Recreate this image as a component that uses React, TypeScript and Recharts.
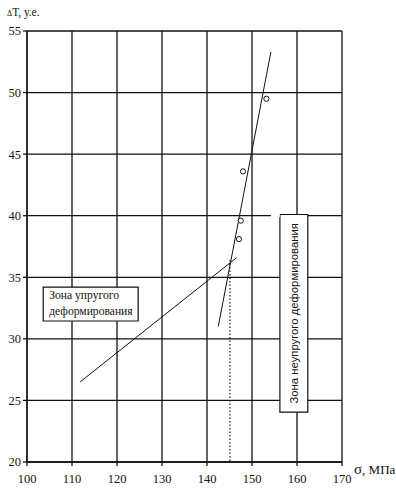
import React from "react";
import {
  ComposedChart,
  XAxis,
  YAxis,
  CartesianGrid,
  Line,
  Scatter,
  ReferenceArea,
  ReferenceLine,
  Label,
} from "recharts";

const xTicks = [100, 110, 120, 130, 140, 150, 160, 170];
const yTicks = [20, 25, 30, 35, 40, 45, 50, 55];

const measuredPoints = [
  { x: 147.1, y: 38.1 },
  { x: 147.5, y: 39.6 },
  { x: 148.0, y: 43.6 },
  { x: 153.2, y: 49.5 },
];

const elasticLine = [
  { x: 111.8, y: 26.5 },
  { x: 146.6, y: 36.6 },
];

const inelasticLine = [
  { x: 142.5, y: 31.0 },
  { x: 154.2, y: 53.3 },
];

const thresholdLine = [
  { x: 145.1, y: 36.4 },
  { x: 145.1, y: 20 },
];

const elasticZoneLabel = ["Зона упругого", "деформирования"];
const inelasticZoneLabel = "Зона неупругого деформирования";

const serif = "Liberation Serif, Times New Roman, DejaVu Serif, serif";
const sans = "Liberation Sans, Arial, sans-serif";

const renderElasticLabel = (props: any) => {
  const vb = props.viewBox || {};
  return (
    <text fill="#111" style={{ fontFamily: serif, fontSize: 11.6 }}>
      <tspan x={vb.x + 6} y={vb.y + 12}>
        {elasticZoneLabel[0]}
      </tspan>
      <tspan x={vb.x + 6} y={vb.y + 28}>
        {elasticZoneLabel[1]}
      </tspan>
    </text>
  );
};

const renderInelasticLabel = (props: any) => {
  const vb = props.viewBox || {};
  const cx = vb.x + vb.width / 2 + 4;
  const cy = vb.y + vb.height / 2;
  return (
    <text
      x={cx}
      y={cy}
      fill="#111"
      textAnchor="middle"
      style={{ fontFamily: sans, fontSize: 11.3 }}
      transform={`rotate(-90 ${cx} ${cy})`}
    >
      {inelasticZoneLabel}
    </text>
  );
};

const renderYTitle = () => (
  <text x={7} y={16} fill="#111" style={{ fontFamily: serif, fontSize: 11.5 }}>
    <tspan style={{ fontSize: 8 }}>Δ</tspan>
    <tspan>T, у.е.</tspan>
  </text>
);

const renderXTitle = () => (
  <text x={354} y={474} fill="#111" style={{ fontFamily: serif, fontSize: 13 }}>
    <tspan style={{ fontSize: 15 }}>σ</tspan>
    <tspan>, МПа</tspan>
  </text>
);

const tickStyle = { fill: "#111", fontFamily: serif, fontSize: 12.5, style: { fontFamily: serif } };

export default function App() {
  return (
    <div style={{ position: "absolute", left: 0, top: 0, background: "#fff" }}>
      <ComposedChart
        width={396}
        height={490}
        margin={{ top: 31, right: 54, bottom: 0, left: 0 }}
      >
        <CartesianGrid stroke="#111" strokeWidth={1.3} />
        <XAxis
          type="number"
          dataKey="x"
          domain={[100, 170]}
          ticks={xTicks}
          height={28}
          tickSize={4}
          tickMargin={8}
          stroke="#111"
          strokeWidth={1.3}
          tick={tickStyle}
          allowDataOverflow
        >
          <Label content={renderXTitle} />
        </XAxis>
        <YAxis
          type="number"
          dataKey="y"
          domain={[20, 55]}
          ticks={yTicks}
          width={27}
          tickSize={4}
          tickMargin={2}
          stroke="#111"
          strokeWidth={1.3}
          tick={tickStyle}
          allowDataOverflow
        >
          <Label content={renderYTitle} />
        </YAxis>
        <ReferenceLine
          segment={[
            { x: 154.2, y: 40 },
            { x: 156.2, y: 40 },
          ]}
          stroke="#fff"
          strokeWidth={3}
        />
        <ReferenceArea
          x1={103.6}
          x2={124.7}
          y1={31.45}
          y2={34.2}
          fill="#fff"
          fillOpacity={1}
          stroke="#111"
          strokeWidth={1.2}
          label={<Label content={renderElasticLabel} />}
        />
        <ReferenceArea
          x1={156.2}
          x2={162.4}
          y1={24.05}
          y2={40.1}
          fill="#fff"
          fillOpacity={1}
          stroke="#111"
          strokeWidth={1.2}
          label={<Label content={renderInelasticLabel} />}
        />
        <Line
          data={elasticLine}
          dataKey="y"
          stroke="#111"
          strokeWidth={1}
          dot={false}
          isAnimationActive={false}
        />
        <Line
          data={inelasticLine}
          dataKey="y"
          stroke="#111"
          strokeWidth={1}
          dot={false}
          isAnimationActive={false}
        />
        <Line
          data={thresholdLine}
          dataKey="y"
          stroke="#111"
          strokeWidth={1.2}
          strokeDasharray="1.5 2"
          dot={false}
          isAnimationActive={false}
        />
        <Scatter
          data={measuredPoints}
          dataKey="y"
          fill="#fff"
          stroke="#111"
          strokeWidth={1}
          isAnimationActive={false}
          shape={(p: any) => (
            <circle cx={p.cx} cy={p.cy} r={2.6} fill="#fff" stroke="#111" strokeWidth={1} />
          )}
        />
      </ComposedChart>
    </div>
  );
}
